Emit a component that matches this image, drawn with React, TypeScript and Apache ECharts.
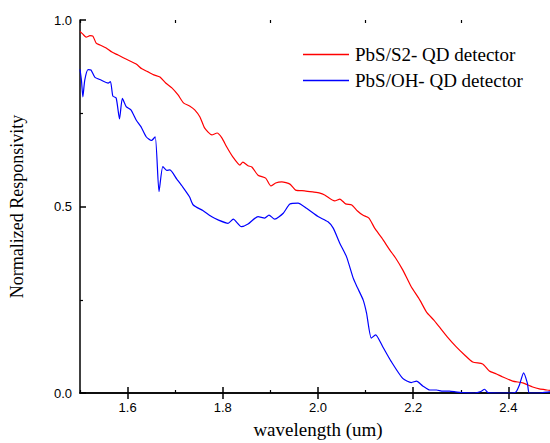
import React, { useEffect, useRef } from "react";
import * as echarts from "echarts";

const redWavelength = [1.500,1.506,1.513,1.521,1.527,1.534,1.542,1.555,1.567,1.580,1.592,1.605,1.618,1.630,1.643,1.655,1.668,1.680,1.693,1.706,1.718,1.731,1.741,1.752,1.762,1.777,1.788,1.798,1.808,1.821,1.836,1.842,1.853,1.861,1.874,1.890,1.901,1.911,1.924,1.941,1.953,1.972,1.989,2.004,2.014,2.035,2.046,2.058,2.071,2.083,2.094,2.107,2.119,2.134,2.151,2.163,2.178,2.195,2.214,2.228,2.243,2.255,2.272,2.291,2.308,2.325,2.346,2.360,2.375,2.388,2.409,2.430,2.451,2.465,2.482,2.500];
const redValues = [0.969,0.962,0.954,0.958,0.957,0.938,0.933,0.925,0.914,0.906,0.898,0.890,0.882,0.869,0.861,0.853,0.847,0.831,0.818,0.799,0.777,0.769,0.759,0.740,0.710,0.692,0.697,0.684,0.660,0.633,0.611,0.619,0.609,0.606,0.584,0.576,0.555,0.563,0.566,0.560,0.544,0.542,0.539,0.536,0.531,0.515,0.520,0.507,0.504,0.488,0.477,0.469,0.442,0.416,0.383,0.362,0.330,0.287,0.249,0.217,0.196,0.177,0.150,0.123,0.102,0.083,0.078,0.059,0.051,0.043,0.032,0.027,0.016,0.011,0.008,0.005];

const blueWavelength = [1.500,1.503,1.506,1.510,1.517,1.523,1.531,1.544,1.559,1.564,1.569,1.576,1.583,1.589,1.597,1.607,1.618,1.628,1.639,1.650,1.658,1.666,1.674,1.682,1.689,1.703,1.716,1.730,1.738,1.758,1.776,1.790,1.811,1.822,1.839,1.853,1.874,1.888,1.897,1.909,1.927,1.941,1.958,1.976,2.000,2.021,2.032,2.046,2.060,2.074,2.083,2.095,2.102,2.112,2.121,2.136,2.154,2.178,2.196,2.207,2.220,2.235,2.249,2.262,2.276,2.289,2.301,2.329,2.342,2.350,2.357,2.381,2.402,2.416,2.423,2.432,2.440,2.444,2.465,2.486,2.500];
const blueValues = [0.868,0.839,0.794,0.839,0.867,0.866,0.847,0.839,0.831,0.835,0.796,0.791,0.735,0.790,0.768,0.759,0.732,0.714,0.687,0.677,0.687,0.540,0.607,0.597,0.598,0.574,0.552,0.526,0.504,0.489,0.473,0.464,0.455,0.466,0.446,0.453,0.473,0.469,0.477,0.466,0.482,0.507,0.509,0.495,0.473,0.459,0.442,0.401,0.365,0.308,0.282,0.249,0.214,0.147,0.156,0.124,0.084,0.039,0.028,0.032,0.019,0.008,0.008,0.005,0.005,0.003,0.001,0.000,0.004,0.010,0.001,0.000,0.000,0.003,0.021,0.054,0.026,0.000,0.000,0.003,0.003];

const seriesNames = ["PbS/S2- QD detector", "PbS/OH- QD detector"];
const majorXTicks = [1.6, 1.8, 2.0, 2.2, 2.4];
const minorXTicks = [1.5, 1.7, 1.9, 2.1, 2.3, 2.5];

export default function App() {
  const ref = useRef<HTMLDivElement>(null);
  useEffect(() => {
    document.body.style.margin = "0";
    const chart = echarts.init(ref.current!, null, { renderer: "svg" });
    const gridBox = { left: 80, top: 20, width: 476, height: 373, outerBoundsMode: "none" } as any;
    const axisLine = { show: true, lineStyle: { color: "#000", width: 1.5 } };
    const labelFont = { color: "#000", fontFamily: "Liberation Sans", fontSize: 13 };
    chart.setOption({
      animation: false,
      backgroundColor: "#fff",
      grid: [gridBox, { ...gridBox }],
      legend: {
        orient: "vertical",
        left: 303,
        top: 45,
        padding: 0,
        itemWidth: 46,
        itemHeight: 1.3,
        itemGap: 7,
        icon: "rect",
        data: seriesNames,
        textStyle: { color: "#000", fontFamily: "Liberation Serif", fontSize: 19, padding: [0, 0, 0, 1] },
      },
      xAxis: [
        {
          type: "value", gridIndex: 0, position: "bottom", min: 1.5, max: 2.5,
          axisLine, splitLine: { show: false },
          axisTick: { show: true, inside: true, length: 6, customValues: majorXTicks, lineStyle: { color: "#000", width: 1.5 } },
          axisLabel: { show: true, customValues: majorXTicks, margin: 8, formatter: (v: number) => v.toFixed(1), ...labelFont },
          name: "wavelength (um)", nameLocation: "middle", nameGap: 27,
          nameTextStyle: { color: "#000", fontFamily: "Liberation Serif", fontSize: 19 },
        },
        {
          type: "value", gridIndex: 0, position: "top", min: 1.5, max: 2.5,
          axisLine, splitLine: { show: false },
          axisTick: { show: true, inside: true, length: 6, customValues: majorXTicks, lineStyle: { color: "#000", width: 1.5 } },
          axisLabel: { show: false },
        },
        {
          type: "value", gridIndex: 1, position: "bottom", min: 1.5, max: 2.5,
          axisLine: { show: false }, splitLine: { show: false },
          axisTick: { show: true, inside: true, length: 3, customValues: minorXTicks, lineStyle: { color: "#000", width: 1.2 } },
          axisLabel: { show: false },
        },
        {
          type: "value", gridIndex: 1, position: "top", min: 1.5, max: 2.5,
          axisLine: { show: false }, splitLine: { show: false },
          axisTick: { show: true, inside: true, length: 3, customValues: minorXTicks, lineStyle: { color: "#000", width: 1.2 } },
          axisLabel: { show: false },
        },
      ],
      yAxis: [
        {
          type: "value", gridIndex: 0, position: "left", min: 0, max: 1, interval: 0.5,
          axisLine, splitLine: { show: false },
          axisTick: { show: true, inside: true, length: 6, lineStyle: { color: "#000", width: 1.5 } },
          minorTick: { show: true, splitNumber: 2, length: 3, lineStyle: { color: "#000", width: 1.2 } },
          minorSplitLine: { show: false },
          axisLabel: { margin: 8, formatter: (v: number) => v.toFixed(1), ...labelFont },
          name: "Normalized Responsivity", nameLocation: "middle", nameGap: 54,
          nameTextStyle: { color: "#000", fontFamily: "Liberation Serif", fontSize: 18 },
        },
        {
          type: "value", gridIndex: 0, position: "right", min: 0, max: 1, interval: 0.5,
          axisLine, splitLine: { show: false },
          axisTick: { show: true, inside: true, length: 6, lineStyle: { color: "#000", width: 1.5 } },
          axisLabel: { show: false },
        },
        { type: "value", gridIndex: 1, min: 0, max: 1, show: false },
      ],
      series: [
        {
          name: seriesNames[0], type: "line", xAxisIndex: 0, yAxisIndex: 0, symbol: "none",
          smooth: 0.2, color: "#ff0000", lineStyle: { color: "#ff0000", width: 1.2 },
          data: redWavelength.map((w, i) => [w, redValues[i]]),
        },
        {
          name: seriesNames[1], type: "line", xAxisIndex: 0, yAxisIndex: 0, symbol: "none",
          smooth: 0.2, color: "#0000ff", lineStyle: { color: "#0000ff", width: 1.2 },
          data: blueWavelength.map((w, i) => [w, blueValues[i]]),
        },
      ],
    });
    return () => chart.dispose();
  }, []);
  return <div ref={ref} style={{ position: "absolute", left: 0, top: 0, width: 550, height: 443 }} />;
}
